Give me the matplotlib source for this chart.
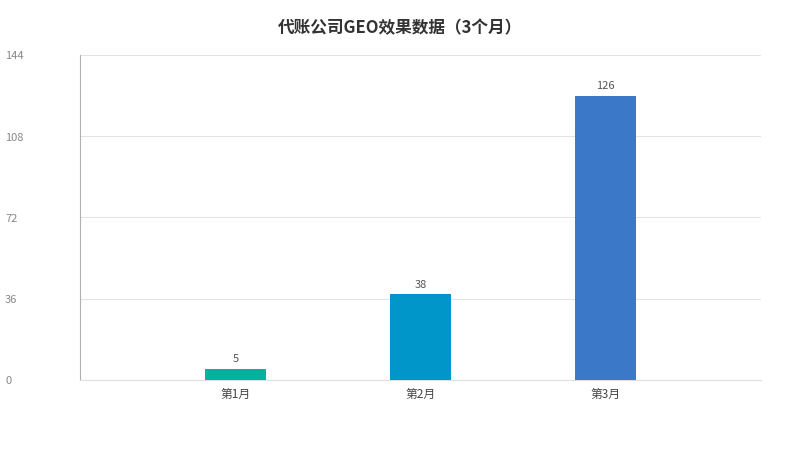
import matplotlib
matplotlib.use('Agg')
import matplotlib.pyplot as plt
import matplotlib.transforms as mtransforms

plt.rcParams['font.family'] = ['Noto Sans CJK SC', 'DejaVu Sans']

# datos
meses   = ['第1月', '第2月', '第3月']
valores = [5, 38, 126]
colores = ['#00b39e', '#0096c9', '#3b78c8']
yticks  = [0, 36, 72, 108, 144]
titulo  = '代账公司GEO效果数据（3个月）'

fig = plt.figure(figsize=(8, 4.5), dpi=100)
ax = fig.add_axes([0.1, 0.1556, 0.85125, 0.7222])

x = range(len(meses))
barras = ax.bar(x, valores, width=0.33, color=colores, zorder=3)

for b, v in zip(barras, valores):
    ax.text(b.get_x() + b.get_width() / 2, v + 2, str(v),
            ha='center', va='bottom', fontsize=8, color='#555555')

ax.set_xlim(-0.84, 2.84)
ax.set_ylim(0, 144)
ax.set_xticks(list(x))
ax.set_xticklabels(meses, fontsize=8.5, color='#444444')
ax.set_yticks(yticks)
ax.set_yticklabels([])
ax.tick_params(axis='y', length=0)
ax.tick_params(axis='x', length=0, pad=6)

# etiquetas del eje y pegadas al borde izquierdo (un poco mas abajo que la grilla)
trans = mtransforms.blended_transform_factory(fig.transFigure, ax.transData) + \
        mtransforms.ScaledTranslation(0, -1.5 / 100, fig.dpi_scale_trans)
for t in yticks:
    ax.text(5 / 800, t, str(t), transform=trans, ha='left', va='center',
            fontsize=8, color='#888888', clip_on=False)

ax.grid(axis='y', color='#e3e3e3', linewidth=0.8, zorder=0)
for s in ['top', 'right']:
    ax.spines[s].set_visible(False)
ax.spines['left'].set_color('#b0b0b0')
ax.spines['left'].set_linewidth(0.8)
ax.spines['bottom'].set_color('#e0e0e0')
ax.spines['bottom'].set_linewidth(0.8)

fig.text(0.5, 0.937, titulo, ha='center', va='center',
         fontsize=12, fontweight='bold', color='#333333')

fig.savefig('out.png', dpi=100)
